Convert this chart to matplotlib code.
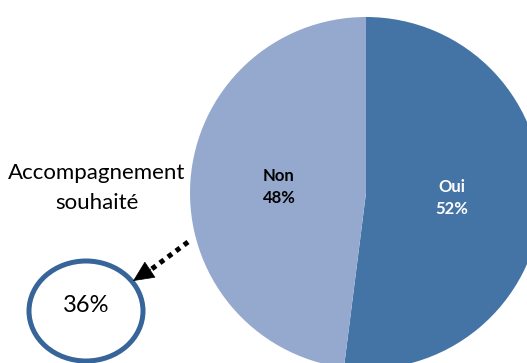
import matplotlib.pyplot as plt
from matplotlib.patches import Ellipse

# Answer shares
labels = ["Oui", "Non"]
shares = [52, 48]
colors = ["#4473A6", "#95A9CF"]
text_colors = ["white", "black"]

# Callout value
wish_label = "Accompagnement\nsouhaité"
wish_share = 36

FONT = "Lato"
W, H = 527, 363
fig = plt.figure(figsize=(W / 100, H / 100), dpi=100)
ax = fig.add_axes([0, 0, 1, 1])

center = (366, 170)
radius = 176
ax.pie(
    shares,
    colors=colors,
    startangle=90,
    counterclock=False,
    center=center,
    radius=radius,
    frame=True,
)
ax.set_xlim(0, W)
ax.set_ylim(0, H)
ax.set_aspect("equal")
ax.axis("off")

label_pos = [(452, 165), (279, 176)]
for lab, val, tc, pos in zip(labels, shares, text_colors, label_pos):
    ax.text(pos[0], pos[1], f"{lab}\n{val}%", ha="center", va="center",
            fontsize=12, fontweight="bold", color=tc, family=FONT,
            linespacing=1.4)

ax.text(97, 175, wish_label, ha="center", va="center", fontsize=16,
        family=FONT, linespacing=1.6)

ax.add_patch(Ellipse((86, 52), 114, 100, fill=False, edgecolor="#37659A",
                     linewidth=3.6))
ax.text(86, 58, f"{wish_share}%", ha="center", va="center", fontsize=17,
        family=FONT)

# dotted pointer from the pie towards the circle
ax.plot([188, 149], [121, 92], color="black", linewidth=3.6,
        linestyle=(0, (1, 1)))
ax.annotate("", xy=(133, 82), xytext=(151, 94),
            arrowprops=dict(arrowstyle="-|>,head_length=1.4,head_width=0.65",
                            linewidth=0.5, color="black",
                            shrinkA=0, shrinkB=0))

fig.savefig("out.png", dpi=100)
